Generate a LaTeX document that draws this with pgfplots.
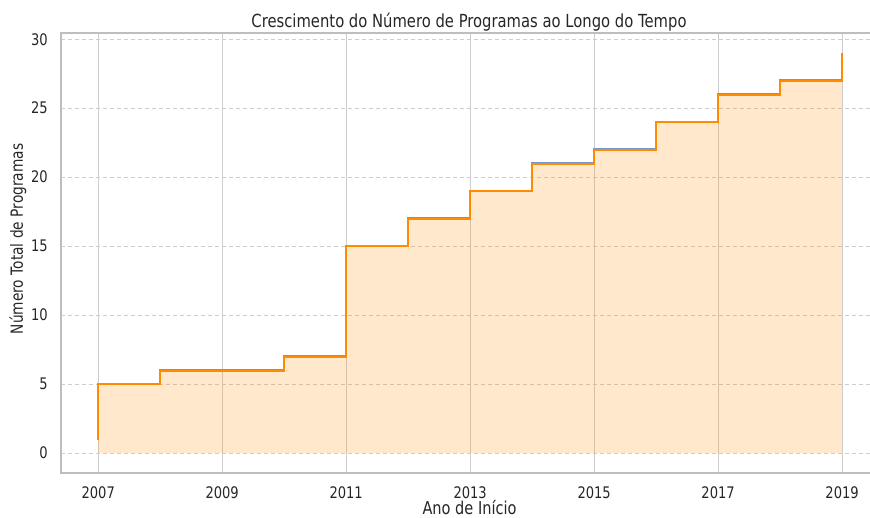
\documentclass[border=0pt]{standalone}
\usepackage{fontspec}
\setmainfont[FakeStretch=0.82]{DejaVu Sans}
\usepackage{pgfplots}
\pgfplotsset{compat=1.18}
\definecolor{lineorange}{RGB}{255,140,0}
\definecolor{gridgray}{RGB}{205,205,205}
\definecolor{spinegray}{RGB}{190,190,190}
\definecolor{lineblue}{RGB}{120,150,205}
\begin{document}
\begin{tikzpicture}
\begin{axis}[
  scale only axis, width=809bp, height=440bp,
  xmin=2006.4, xmax=2019.45, ymin=-1.45, ymax=30.45,
  axis line style={draw=none},
  clip=false,
  xtick={2007,2009,2011,2013,2015,2017,2019},
  ytick={0,5,10,15,20,25,30},
  major tick length=0pt,
  xmajorgrids, ymajorgrids,
  x grid style={gridgray, line width=1.1bp},
  y grid style={gridgray, line width=0.8bp, dash pattern=on 4bp off 3bp},
  /pgf/number format/assume math mode=true,
  /pgf/number format/1000 sep={},
  ticklabel style={font=\fontsize{16}{18}\selectfont, text=black!85},
  yticklabel style={anchor=east, inner sep=0pt, xshift=-13bp},
  xticklabel style={anchor=base, inner sep=0pt, yshift=-25bp},
]
\addplot[const plot, draw=none, fill=lineorange, fill opacity=0.2] coordinates {
  (2007,0) (2007,5) (2008,6) (2010,7) (2011,15) (2012,17) (2013,19) (2014,21) (2015,22) (2016,24) (2017,26) (2018,27) (2019,27) (2019,0)
};
\addplot[const plot, lineblue, line width=2.3bp] coordinates {
  (2007,1) (2007,5) (2008,6) (2010,7) (2011,15) (2012,17) (2013,19) (2014,21) (2015,22) (2016,24) (2017,26) (2018,27) (2019,29)
};
\addplot[const plot, lineorange, line width=2bp, yshift=-0.3bp] coordinates {
  (2007,1) (2007,5) (2008,6) (2010,7) (2011,15) (2012,17) (2013,19) (2014,21) (2015,22) (2016,24) (2017,26) (2018,27) (2019,29)
};
\draw[spinegray, line width=1.2bp] (rel axis cs:1,1) -- (rel axis cs:0,1) -- (rel axis cs:0,0) -- (rel axis cs:1,0);
\end{axis}
\node[anchor=base, inner sep=0pt, text=black!85, font=\fontsize{18.1}{20}\selectfont] at (408bp,445bp) {Crescimento do Número de Programas ao Longo do Tempo};
\node[anchor=base, inner sep=0pt, text=black!85, font=\fontsize{17.8}{20}\selectfont] at (408.5bp,-41bp) {Ano de Início};
\node[text=black!85, font=\fontsize{16.8}{19}\selectfont, rotate=90] at (-43bp,234bp) {Número Total de Programas};
\pgfresetboundingbox
\useasboundingbox (-61bp,-45bp) rectangle (809bp,473bp);
\end{tikzpicture}
\end{document}
